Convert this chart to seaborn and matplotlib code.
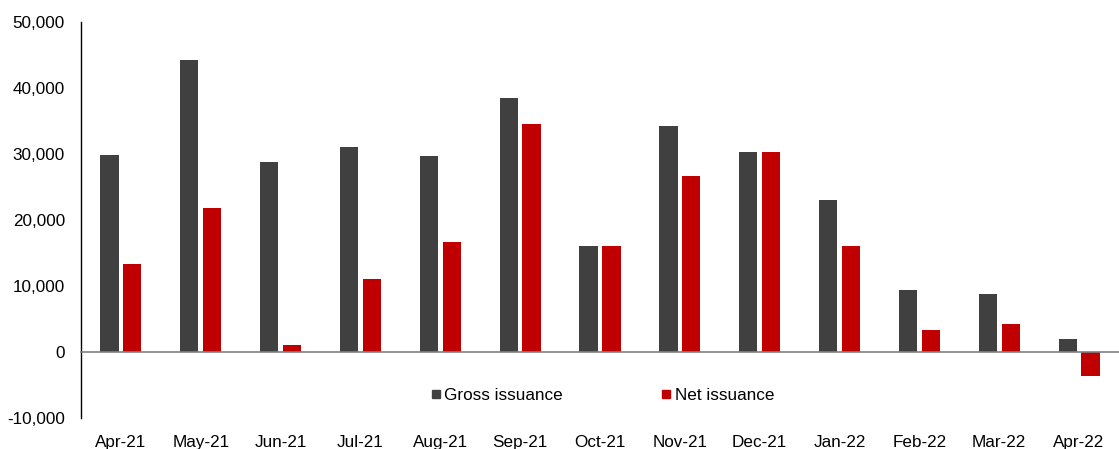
import pandas as pd
import matplotlib.pyplot as plt
import seaborn as sns
from matplotlib.lines import Line2D

# Monthly issuance values
months = ['Apr-21', 'May-21', 'Jun-21', 'Jul-21', 'Aug-21', 'Sep-21', 'Oct-21',
          'Nov-21', 'Dec-21', 'Jan-22', 'Feb-22', 'Mar-22', 'Apr-22']
gross = [29900, 44200, 28800, 31100, 29700, 38500, 16100,
         34200, 30300, 23100, 9400, 8800, 2000]
net = [13400, 21800, 1000, 11000, 16700, 34500, 16100,
       26600, 30300, 16000, 3400, 4300, -3600]
series_names = ['Gross issuance', 'Net issuance']
colors = ['#404040', '#C00000']
yticks = [-10000, 0, 10000, 20000, 30000, 40000, 50000]

df = pd.DataFrame({
    'month': months * 2,
    'value': gross + net,
    'series': [series_names[0]] * len(months) + [series_names[1]] * len(months),
})

sns.set_style('white')
plt.rcParams['font.family'] = ['Liberation Sans', 'DejaVu Sans']
plt.rcParams['font.size'] = 12.3
plt.rcParams['text.color'] = 'black'
plt.rcParams['xtick.color'] = 'black'
plt.rcParams['ytick.color'] = 'black'

fig = plt.figure(figsize=(11.19, 4.49), dpi=100)
ax = fig.add_axes([81 / 1119, 1 - 418 / 449, 1 - 81 / 1119, 396 / 449])

sns.barplot(data=df, x='month', y='value', hue='series', order=months,
            hue_order=series_names, palette=colors, saturation=1,
            width=0.572, gap=0.2, errorbar=None, legend=False,
            linewidth=0, ax=ax)

ax.set_ylim(-10000, 50000)
ax.set_xlim(-0.5, 12.394)
ax.set_yticks(yticks)
ax.set_yticklabels([f'{v:,}' for v in yticks])
ax.set_xlabel('')
ax.set_ylabel('')

# Spines: left axis in black, category axis sitting at zero
for side in ['top', 'right']:
    ax.spines[side].set_visible(False)
ax.spines['left'].set_color('black')
ax.spines['left'].set_linewidth(1)
ax.spines['bottom'].set_position(('data', 0))
ax.spines['bottom'].set_color('#808080')
ax.spines['bottom'].set_linewidth(1.2)

# Category boundary tick marks, labels pushed down below the plot
ax.set_xticks([i + 0.5 for i in range(len(months))], minor=True)
ax.tick_params(axis='x', which='minor', length=5, width=1, color='#404040',
               direction='out')
ax.tick_params(axis='x', which='major', length=0, pad=60, labelsize=12.3,
               labelcolor='black')
ax.tick_params(axis='y', length=0, pad=11.5, labelsize=12.3, labelcolor='black')

handles = [Line2D([], [], marker='s', linestyle='', markersize=6.2,
                  markerfacecolor=c, markeredgecolor=c) for c in colors]
fig.legend(handles, series_names, loc='center', bbox_to_anchor=(603 / 1119, 1 - 395 / 449),
           ncol=2, frameon=False, handlelength=0.5, handletextpad=0.25,
           columnspacing=5.8, fontsize=12.3, labelcolor='black')

fig.savefig('out.png', dpi=100)
